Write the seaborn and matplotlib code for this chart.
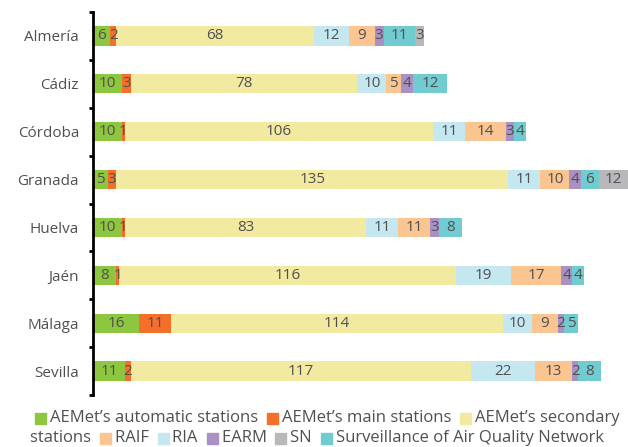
import matplotlib
matplotlib.use("Agg")
import matplotlib.pyplot as plt
import seaborn as sns
import numpy as np
from matplotlib.patches import Rectangle

provinces = ["Almería", "Cádiz", "Córdoba", "Granada", "Huelva", "Jaén", "Málaga", "Sevilla"]
aemet_auto = [6, 10, 10, 5, 10, 8, 16, 11]
aemet_main = [2, 3, 1, 3, 1, 1, 11, 2]
aemet_secondary = [68, 78, 106, 135, 83, 116, 114, 117]
ria = [12, 10, 11, 11, 11, 19, 10, 22]
raif = [9, 5, 14, 10, 11, 17, 9, 13]
earm = [3, 4, 3, 4, 3, 4, 2, 2]
air_quality = [11, 12, 4, 6, 8, 4, 5, 8]
sn = [3, 0, 0, 12, 0, 0, 0, 0]

series = [
    ("AEMet’s automatic stations", aemet_auto, "#8DC63F"),
    ("AEMet’s main stations", aemet_main, "#F36F2A"),
    ("AEMet’s secondary stations", aemet_secondary, "#F3EAA2"),
    ("RIA", ria, "#C4E7F0"),
    ("RAIF", raif, "#FBC592"),
    ("EARM", earm, "#A990C5"),
    ("Surveillance of Air Quality Network", air_quality, "#71CCD1"),
    ("SN", sn, "#B8B8BB"),
]

sns.set_theme(style="white")
plt.rcParams["font.family"] = ["Open Sans", "DejaVu Sans"]
TXT = "#505050"
FS = 11

fig = plt.figure(figsize=(6.28, 4.47), dpi=100)
ax = fig.add_axes([93 / 628, 1 - 395 / 447, (628 - 93) / 628, (395 - 12) / 447])

left = np.zeros(len(provinces))
colors = {}
for name, vals, col in series:
    vals = np.array(vals, dtype=float)
    sns.barplot(x=vals, y=provinces, left=left, color=col, width=0.4, orient="h",
                ax=ax, saturation=1, linewidth=0)
    cont = ax.containers[-1]
    labels = [f"{int(v)}" if v > 0 else "" for v in vals]
    ax.bar_label(cont, labels=labels, label_type="center", color=TXT, fontsize=FS)
    colors[name] = col
    left = left + vals

ax.set_xlim(0, left.max() * 0.99)
ax.set_ylim(len(provinces) - 0.5, -0.5)
ax.set_xlabel("")
ax.set_ylabel("")
ax.set_xticks([])
for s in ["top", "right", "bottom"]:
    ax.spines[s].set_visible(False)
ax.spines["left"].set_color("black")
ax.spines["left"].set_linewidth(2)
ax.tick_params(axis="y", which="major", left=False, length=0, labelsize=FS, labelcolor=TXT, pad=10)
ax.set_yticks(np.arange(-0.5, len(provinces), 1), minor=True)
ax.tick_params(axis="y", which="minor", left=True, length=3, width=2, color="black", direction="out")

# flowing legend
fig.canvas.draw()
renderer = fig.canvas.get_renderer()
W, H = 628, 447
sq = 11
LFS = 12
lines = [
    [("sq", "AEMet’s automatic stations"), ("t", "AEMet’s automatic stations  "),
     ("sq", "AEMet’s main stations"), ("t", "AEMet’s main stations  "),
     ("sq", "AEMet’s secondary stations"), ("t", "AEMet’s secondary")],
    [("t", "stations  "), ("sq", "RAIF"), ("t", "RAIF  "), ("sq", "RIA"), ("t", "RIA  "),
     ("sq", "EARM"), ("t", "EARM  "), ("sq", "SN"), ("t", "SN  "),
     ("sq", "Surveillance of Air Quality Network"), ("t", "Surveillance of Air Quality Network")],
]
starts = [35, 30]
ys = [418, 438]
for items, x0, yc in zip(lines, starts, ys):
    x = x0
    for kind, val in items:
        if kind == "sq":
            fig.patches.append(Rectangle((x / W, 1 - (yc + sq / 2) / H), sq / W, sq / H,
                                         transform=fig.transFigure, color=colors[val]))
            x += sq + 4
        else:
            t = fig.text(x / W, 1 - yc / H, val, ha="left", va="center", fontsize=LFS,
                         color=TXT)
            bb = t.get_window_extent(renderer)
            x += bb.width

fig.savefig("out.png", dpi=100)
